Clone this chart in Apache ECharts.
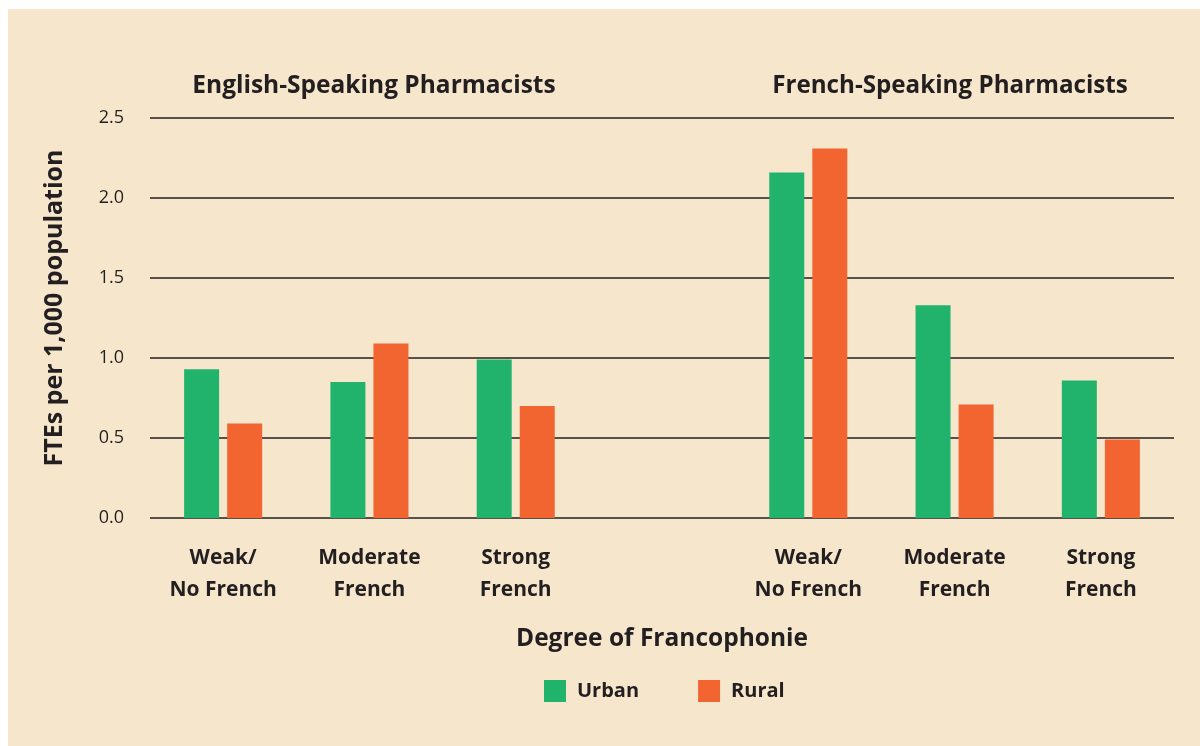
<!DOCTYPE html>
<html>
<head>
<meta charset="utf-8">
<script src="https://cdn.jsdelivr.net/npm/echarts@6/dist/echarts.min.js"></script>
<style>
  html, body { margin: 0; padding: 0; background: #fff; }
  #chart { width: 1200px; height: 746px; }
</style>
</head>
<body>
<div id="chart"></div>
<script>
// categories (empty slot separates the two groups)
const categories = ['Weak/\nNo French', 'Moderate\nFrench', 'Strong\nFrench', '', 'Weak/\nNo French', 'Moderate\nFrench', 'Strong\nFrench'];
const urban = [0.93, 0.85, 0.99, null, 2.16, 1.33, 0.86];
const rural = [0.59, 1.09, 0.70, null, 2.31, 0.71, 0.49];
const groupTitles = ['English-Speaking Pharmacists', 'French-Speaking Pharmacists'];
const yTicks = { min: 0, max: 2.5, step: 0.5 };

const FONT = '"Open Sans", sans-serif';
const INK = '#231f20';
const BG = '#f5e6cc';

let chart = echarts.init(document.getElementById('chart'));

let option = {
    backgroundColor: '#fff',
    textStyle: { fontFamily: FONT, color: INK },
    graphic: [{
        type: 'rect',
        z: -10,
        silent: true,
        shape: { x: 8, y: 9, width: 1192, height: 737 },
        style: { fill: BG }
    }, {
        // y axis title
        type: 'text',
        x: 55,
        y: 308,
        rotation: Math.PI / 2,
        style: {
            text: 'FTEs per 1,000 population',
            fill: INK,
            font: 'bold 25px "Open Sans", sans-serif',
            textAlign: 'center',
            textVerticalAlign: 'middle'
        }
    }],
    title: [
        { text: groupTitles[0], left: 369, top: 69, textAlign: 'center',
          textStyle: { fontFamily: FONT, fontSize: 24.5, fontWeight: 'bold', color: INK } },
        { text: groupTitles[1], left: 945, top: 69, textAlign: 'center',
          textStyle: { fontFamily: FONT, fontSize: 24.2, fontWeight: 'bold', color: INK } }
    ],
    legend: {
        left: 544,
        top: 680,
        padding: 0,
        itemWidth: 22,
        itemHeight: 22,
        itemGap: 59,
        icon: 'rect',
        textStyle: { fontFamily: FONT, fontSize: 20, fontWeight: 'bold', color: INK, padding: [0, 0, 0, 6] },
        data: ['Urban', 'Rural']
    },
    grid: { left: 150, right: 26, top: 118, bottom: 228 },
    xAxis: {
        type: 'category',
        data: categories,
        axisLine: { show: false },
        axisTick: { show: false },
        axisLabel: {
            interval: 0,
            margin: 24,
            fontFamily: FONT, fontSize: 21, fontWeight: 'bold', color: INK,
            lineHeight: 32
        },
        name: 'Degree of Francophonie',
        nameLocation: 'middle',
        nameGap: 109,
        nameTextStyle: { fontFamily: FONT, fontSize: 24.5, fontWeight: 'bold', color: INK }
    },
    yAxis: {
        type: 'value',
        min: yTicks.min,
        max: yTicks.max,
        interval: yTicks.step,
        axisLine: { show: false },
        axisTick: { show: false },
        splitLine: { lineStyle: { color: INK, width: 1.5 } },
        axisLabel: {
            margin: 26,
            fontFamily: FONT, fontSize: 18, color: INK,
            formatter: v => v.toFixed(1)
        }
    },
    series: [
        { name: 'Urban', type: 'bar', data: urban, barWidth: 35, barGap: '23%',
          itemStyle: { color: '#21b36c' } },
        { name: 'Rural', type: 'bar', data: rural, barWidth: 35, barGap: '23%',
          itemStyle: { color: '#f26531' } }
    ]
};

chart.setOption(option);

window.addEventListener('resize', () => {
    chart.resize();
});
</script>
</body>
</html>
